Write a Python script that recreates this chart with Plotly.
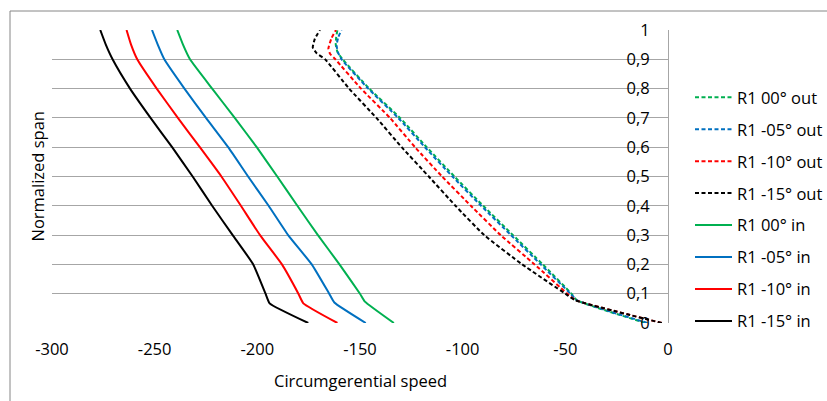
import plotly.graph_objects as go

# ---------------- data ----------------
x_ticks = [-300, -250, -200, -150, -100, -50, 0]
x_tick_labels = ["-300", "-250", "-200", "-150", "-100", "-50", "0"]
y_ticks = [0, 0.1, 0.2, 0.3, 0.4, 0.5, 0.6, 0.7, 0.8, 0.9, 1]
y_tick_labels = ["0", "0,1", "0,2", "0,3", "0,4", "0,5", "0,6", "0,7", "0,8", "0,9", "1"]

# outlet (dashed)
span_out00 = [0, 0.078, 0.1, 0.2, 0.3, 0.4, 0.5, 0.6, 0.7, 0.8, 0.9, 0.925, 0.95, 0.975, 1]
speed_out00 = [-11, -44.5, -47, -61, -75.5, -90, -104, -117.5, -130.5, -145.5, -158.5, -161, -161.8, -161.6, -161]
span_out05 = [0, 0.078, 0.1, 0.2, 0.3, 0.4, 0.5, 0.6, 0.7, 0.8, 0.9, 0.925, 0.948, 0.975, 1]
speed_out05 = [-10, -44.5, -47.5, -62, -76.5, -91, -105, -118.4, -131.4, -146, -159, -160.8, -161.4, -160.6, -159]
span_out10 = [0, 0.078, 0.1, 0.2, 0.3, 0.4, 0.5, 0.6, 0.7, 0.8, 0.9, 0.918, 0.936, 0.97, 1]
speed_out10 = [-3, -45, -49, -65, -81.5, -96, -110, -123.2, -135.4, -149.5, -162, -164.5, -165.4, -164, -161.7]
span_out15 = [0, 0.078, 0.1, 0.2, 0.3, 0.4, 0.5, 0.6, 0.7, 0.8, 0.9, 0.92, 0.94, 0.97, 1]
speed_out15 = [-3, -45.3, -50, -71, -89.5, -103.5, -116.5, -129.7, -142, -155.3, -167, -171, -173, -172, -169.5]

# inlet (solid)
span_in00 = [0, 0.073, 0.1, 0.2, 0.3, 0.4, 0.5, 0.6, 0.7, 0.8, 0.9, 0.95, 1]
speed_in00 = [-133.5, -147.6, -150, -160, -170.5, -180.5, -190.3, -200.3, -211, -222, -232.8, -236.2, -239]
span_in05 = [0, 0.07, 0.1, 0.2, 0.3, 0.4, 0.5, 0.6, 0.7, 0.8, 0.9, 0.95, 1]
speed_in05 = [-147.2, -162.5, -165, -173.5, -185, -194.5, -204.5, -214.2, -225, -235.5, -245.3, -248.5, -251.3]
span_in10 = [0, 0.067, 0.1, 0.2, 0.3, 0.4, 0.5, 0.6, 0.7, 0.8, 0.9, 0.95, 1]
speed_in10 = [-161, -177.6, -180, -188, -198.7, -208, -217.5, -228, -238.7, -249, -258.5, -261.5, -263.7]
span_in15 = [0, 0.067, 0.1, 0.2, 0.3, 0.4, 0.5, 0.6, 0.7, 0.8, 0.9, 0.95, 1]
speed_in15 = [-175.2, -194, -196, -202, -212, -222, -231.5, -241.5, -252, -262, -270.5, -273.8, -276.5]

series = [
    ("R1 00° out", speed_out00, span_out00, "#00B050", "dash"),
    ("R1 -05° out", speed_out05, span_out05, "#0070C0", "dash"),
    ("R1 -10° out", speed_out10, span_out10, "#FF0000", "dash"),
    ("R1 -15° out", speed_out15, span_out15, "#000000", "dash"),
    ("R1 00° in", speed_in00, span_in00, "#00B050", "solid"),
    ("R1 -05° in", speed_in05, span_in05, "#0070C0", "solid"),
    ("R1 -10° in", speed_in10, span_in10, "#FF0000", "solid"),
    ("R1 -15° in", speed_in15, span_in15, "#000000", "solid"),
]

FONT = "Open Sans"
FS = 16.5
GRID = "#A6A6A6"

fig = go.Figure()
for i, (name, xs, ys, col, style) in enumerate(series):
    fig.add_trace(go.Scatter(
        x=xs, y=ys, name=name, mode="lines",
        legendgroup="g%d" % i,
        line=dict(color=col, width=2,
                  dash="4px,2.5px" if style == "dash" else "solid",
                  shape="spline", smoothing=0.4),
    ))

L, R, T, B = 52, 159, 30, 78
W, H = 827, 401
pw, ph = W - L - R, H - T - B

fig.update_layout(
    width=W, height=H,
    margin=dict(l=L, r=R, t=T, b=B, pad=0, autoexpand=False),
    paper_bgcolor="white", plot_bgcolor="white",
    font=dict(family=FONT, size=FS, color="#000000"),
    showlegend=True,
    legend=dict(
        x=1 + (690 - (W - R)) / pw, xanchor="left",
        y=1 - (80 - T) / ph, yanchor="top",
        font=dict(family=FONT, size=FS, color="#000000"),
        tracegroupgap=7.5, itemwidth=37,
        bgcolor="rgba(0,0,0,0)",
    ),
    xaxis=dict(
        range=[-300, 0], tickvals=x_ticks, ticktext=x_tick_labels,
        showgrid=False, zeroline=False, showline=False,
        ticks="", ticklabelstandoff=14,
        tickfont=dict(family=FONT, size=FS),
    ),
    yaxis=dict(
        range=[0, 1], tickvals=y_ticks, ticktext=y_tick_labels,
        anchor="free", position=1, side="left",
        showgrid=True, gridcolor=GRID, gridwidth=1,
        zeroline=False, showline=True, linecolor=GRID, linewidth=1,
        ticks="", ticklabelstandoff=15,
        tickfont=dict(family=FONT, size=FS),
    ),
    annotations=[
        dict(text="Normalized span", textangle=-90, xref="paper", yref="paper",
             x=(37 - L) / pw, y=0.5, xanchor="center", yanchor="middle",
             showarrow=False, font=dict(family=FONT, size=FS)),
        dict(text="Circumgerential speed", xref="paper", yref="paper",
             x=0.5, y=-(380 - (H - B)) / ph, xanchor="center", yanchor="middle",
             showarrow=False, font=dict(family=FONT, size=FS)),
    ],
    shapes=[
        dict(type="line", xref="paper", yref="paper",
             x0=(10 - L) / pw, x1=(W + 5 - L) / pw,
             y0=1 + (T - 11) / ph, y1=1 + (T - 11) / ph,
             line=dict(color="#868686", width=1)),
        dict(type="line", xref="paper", yref="paper",
             x0=(10 - L) / pw, x1=(10 - L) / pw,
             y0=1 + (T - 11) / ph, y1=-(H + 5 - (H - B)) / ph,
             line=dict(color="#868686", width=1)),
    ],
)

fig.write_html("out.html")
